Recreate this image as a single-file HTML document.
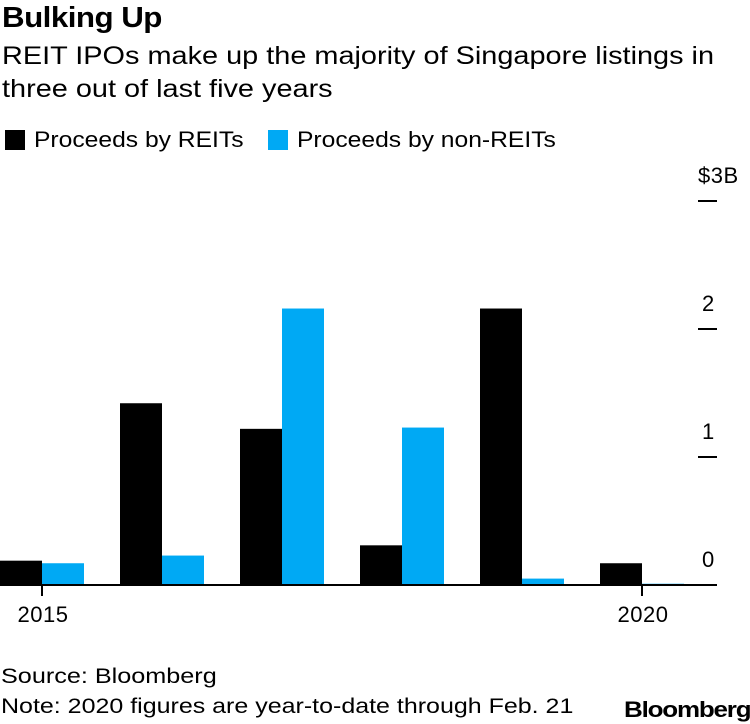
<!DOCTYPE html>
<html><head><meta charset="utf-8"><style>
body{margin:0;background:#fff;width:750px;height:724px;overflow:hidden;font-family:"Liberation Sans",Arial,sans-serif;color:#000;position:relative}
.t{position:absolute;white-space:nowrap;transform-origin:0 0}
</style></head><body>
<div class="t" style="left:2px;top:2px;font-size:29px;font-weight:bold;letter-spacing:-0.5px;transform:scaleX(1.08)">Bulking Up</div>
<div class="t" style="left:2px;top:40px;font-size:25px;line-height:33px;transform:scaleX(1.155)">REIT IPOs make up the majority of Singapore listings in<br>three out of last five years</div>
<div class="t" style="left:5px;top:127px;font-size:22px"><span style="display:inline-block;width:20px;height:20px;background:#000;vertical-align:-3px;margin-right:9px"></span><span style="display:inline-block;transform:scaleX(1.12);transform-origin:0 0">Proceeds by REITs</span></div>
<div class="t" style="left:268px;top:127px;font-size:22px"><span style="display:inline-block;width:20px;height:20px;background:#00a9f4;vertical-align:-3px;margin-right:9px"></span><span style="display:inline-block;transform:scaleX(1.12);transform-origin:0 0">Proceeds by non-REITs</span></div>
<svg id="chart" width="750" height="724" style="position:absolute;left:0;top:0" font-family="Liberation Sans, Arial, sans-serif"></svg>
<div class="t" style="left:1px;top:665px;font-size:21px;transform:scaleX(1.2)">Source: Bloomberg</div>
<div class="t" style="left:1px;top:695px;font-size:21px;transform:scaleX(1.19)">Note: 2020 figures are year-to-date through Feb. 21</div>
<div class="t" style="left:624px;top:697px;font-size:22px;font-weight:bold;letter-spacing:-1px;transform:scaleX(1.18)">Bloomberg</div>
<script>
const years=[2015,2016,2017,2018,2019,2020];
const reits=[0.19,1.42,1.22,0.31,2.16,0.17];
const nonReits=[0.17,0.23,2.16,1.23,0.05,0.01];
const yTicks=[0,1,2,3];
const yTickLabels=["0","1","2","$3B"];
const xLabels=["2015","","","","","2020"];
const NS="http://www.w3.org/2000/svg";
const svg=document.getElementById('chart');
const y0=585,pxPer=128;
function y(v){return y0-v*pxPer;}
function x(i){return i*120;}
const bw=42;
function mk(t,a){const e=document.createElementNS(NS,t);for(const k in a)e.setAttribute(k,a[k]);svg.appendChild(e);return e;}
years.forEach((yr,i)=>{
  let r=mk('rect',{x:x(i),y:y(reits[i]),width:bw,height:y0-y(reits[i]),fill:'#000'});
  
  
  let b=mk('rect',{x:x(i)+bw,y:y(nonReits[i]),width:bw,height:Math.max(1,y0-y(nonReits[i])),fill:'#00a9f4'});
  
  
  if(xLabels[i]){
    let tk=mk('line',{x1:x(i)+bw,x2:x(i)+bw,y1:y0,y2:y0+11,stroke:'#000','stroke-width':2});
    
    
    let tl=mk('text',{x:x(i)+bw+1,y:y0+37,'font-size':22,'text-anchor':'middle','letter-spacing':'0.5'});
    tl.textContent=xLabels[i];
    
    
  }
});
let base=mk('line',{x1:0,x2:717,y1:y0,y2:y0,stroke:'#000','stroke-width':2});


yTicks.forEach((v,i)=>{
  if(v>0){
    let l=mk('line',{x1:698,x2:717,y1:y(v),y2:y(v),stroke:'#000','stroke-width':2});
    
    
  }
  let t=mk('text',{x:v===3?698:702,y:y(v)-18,'font-size':22,'letter-spacing':'0.5'});
  t.textContent=yTickLabels[i];
  
  
});
</script>
</body></html>
